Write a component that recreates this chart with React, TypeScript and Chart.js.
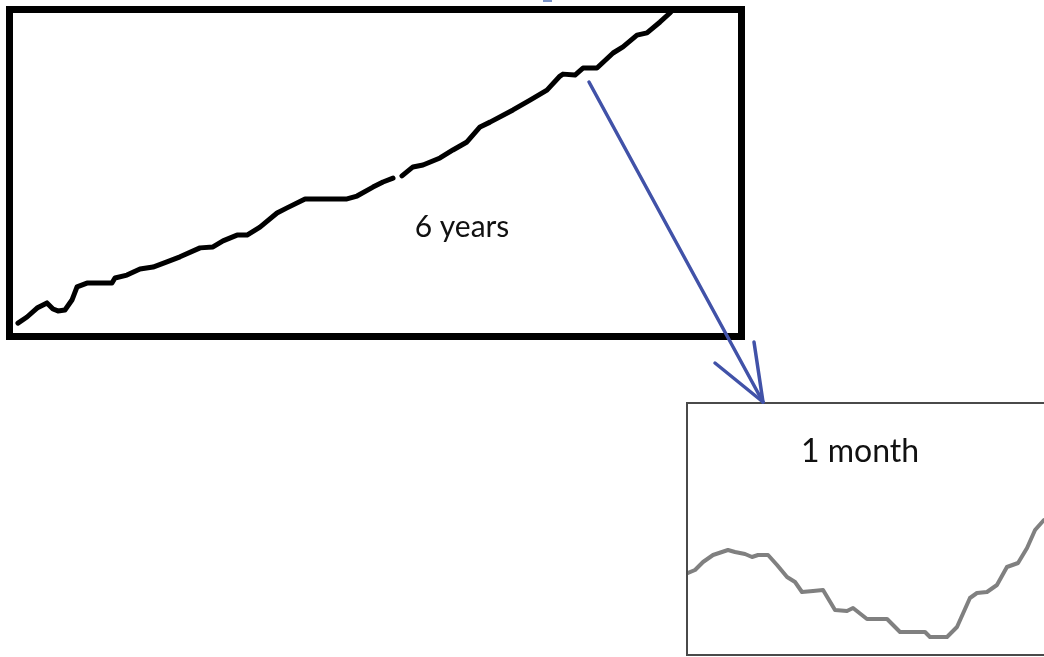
import React, { useEffect, useRef } from "react";
import { Chart, registerables } from "chart.js";

Chart.register(...registerables);

// Long-term series: 6 years (x in years, y in index units)
const yearX = [
  0.041, 0.116, 0.199, 0.281, 0.331, 0.372, 0.43, 0.488, 0.53, 0.612, 0.819, 0.844,
  0.943, 1.051, 1.159, 1.274, 1.382, 1.548, 1.655, 1.738, 1.854, 1.937, 2.044, 2.185,
  2.268, 2.417, 2.764, 2.847, 2.979, 3.062, 3.145, 3.18, 3.219, 3.31, 3.393, 3.534,
  3.641, 3.757, 3.865, 3.948, 4.138, 4.279, 4.419, 4.527, 4.552, 4.651, 4.717, 4.833,
  4.966, 5.048, 5.164, 5.247, 5.355, 5.437, 5.486,
];
const yearValue: (number | null)[] = [
  3.1, 5.0, 7.8, 9.4, 7.5, 6.9, 7.2, 10.3, 14.4, 15.6, 15.6, 17.2,
  18.1, 20.0, 20.6, 22.2, 23.8, 26.6, 26.9, 28.8, 30.6, 30.6, 33.1, 37.5,
  39.1, 41.9, 41.9, 42.8, 45.6, 47.2, 48.4, null, 49.1, 51.9, 52.5, 54.7,
  57.2, 59.7, 64.4, 65.9, 69.7, 72.8, 75.9, 80.3, 80.9, 80.6, 82.8, 82.8,
  87.5, 89.4, 93.1, 93.8, 97.2, 100.0, 102.2,
];

// Short-term series: 1 month (x in days)
const dayX = [
  0.0, 0.57, 1.22, 2.03, 3.24, 3.81, 4.62, 5.19, 5.68, 6.49, 7.22, 8.03,
  8.68, 9.24, 10.14, 10.95, 11.92, 12.89, 13.38, 14.51, 16.14, 17.19, 19.22, 19.62,
  21.0, 21.81, 22.86, 23.43, 24.24, 25.05, 25.86, 26.76, 27.49, 28.14, 28.86,
];
const dayValue = [
  32.4, 33.6, 36.8, 39.6, 41.6, 40.8, 40.0, 38.8, 39.6, 39.6, 35.6, 30.8,
  28.8, 24.8, 25.2, 25.6, 17.6, 17.2, 18.4, 14.0, 14.0, 8.8, 8.8, 6.8,
  6.8, 10.8, 22.4, 24.4, 24.8, 27.6, 34.8, 36.4, 42.4, 49.6, 53.6,
];

const longLabel = { text: "6 years", x: 3.716, y: 30 };
const shortLabel = { text: "1 month", x: 13.95, y: 76.8 };

const framePlugin = {
  id: "frame",
  afterDatasetsDraw(chart: any, _args: any, opts: any) {
    const { ctx, chartArea } = chart;
    const { left, top, right, bottom } = chartArea;
    const w = opts.width;
    const h = w / 2;
    ctx.save();
    ctx.strokeStyle = opts.color;
    ctx.lineWidth = w;
    ctx.lineCap = "square";
    ctx.beginPath();
    if (opts.right) {
      ctx.rect(left - h, top - h, right - left + w, bottom - top + w);
    } else {
      ctx.moveTo(right + 40, top - h);
      ctx.lineTo(left - h, top - h);
      ctx.lineTo(left - h, bottom + h);
      ctx.lineTo(right + 40, bottom + h);
    }
    ctx.stroke();
    const lab = opts.label;
    if (lab) {
      ctx.fillStyle = "#111111";
      ctx.font = opts.font;
      ctx.textAlign = "center";
      ctx.textBaseline = "alphabetic";
      ctx.fillText(
        lab.text,
        chart.scales.x.getPixelForValue(lab.x),
        chart.scales.y.getPixelForValue(lab.y)
      );
    }
    ctx.restore();
  },
};

function makeChart(
  canvas: HTMLCanvasElement,
  xs: number[],
  ys: (number | null)[],
  xMax: number,
  color: string,
  width: number,
  padding: any,
  frame: any
) {
  return new Chart(canvas, {
    type: "line",
    data: {
      datasets: [
        {
          data: xs.map((x, i) => ({ x, y: ys[i] })) as any,
          borderColor: color,
          borderWidth: width,
          pointRadius: 0,
          tension: 0,
          spanGaps: false,
          borderJoinStyle: "round",
          borderCapStyle: "round",
        },
      ],
    },
    options: {
      animation: false,
      responsive: false,
      maintainAspectRatio: false,
      layout: { padding },
      scales: {
        x: { type: "linear", min: 0, max: xMax, display: false },
        y: { type: "linear", min: 0, max: 100, display: false },
      },
      plugins: {
        legend: { display: false },
        tooltip: { enabled: false },
        frame,
      } as any,
    },
    plugins: [framePlugin],
  });
}

export default function App() {
  const bigRef = useRef<HTMLCanvasElement>(null);
  const smallRef = useRef<HTMLCanvasElement>(null);

  useEffect(() => {
    const c1 = makeChart(
      bigRef.current!,
      yearX,
      yearValue,
      6,
      "#000000",
      5,
      { left: 13, right: 22, top: 13, bottom: 17 },
      { width: 7, color: "#000000", right: true, label: longLabel, font: "30px Lato" }
    );
    const c2 = makeChart(
      smallRef.current!,
      dayX,
      dayValue,
      30,
      "#808080",
      4,
      { left: 8, right: 52, top: 9, bottom: 3 },
      { width: 2, color: "#4a4a4a", right: false, label: shortLabel, font: "32px Lato" }
    );
    return () => {
      c1.destroy();
      c2.destroy();
    };
  }, []);

  return (
    <div
      style={{
        position: "fixed",
        left: 0,
        top: 0,
        width: 1044,
        height: 657,
        overflow: "hidden",
        background: "#ffffff",
      }}
    >
      <canvas
        ref={bigRef}
        width={760}
        height={350}
        style={{ position: "absolute", left: 0, top: 0, width: 760, height: 350 }}
      />
      <canvas
        ref={smallRef}
        width={430}
        height={262}
        style={{ position: "absolute", left: 680, top: 395, width: 430, height: 262 }}
      />
      <div
        style={{
          position: "absolute",
          left: 543,
          top: 0,
          width: 9,
          height: 2,
          background: "#7a93c8",
        }}
      />
      <svg
        width={1044}
        height={657}
        style={{ position: "absolute", left: 0, top: 0, pointerEvents: "none" }}
      >
        <g stroke="#4152a8" strokeWidth={3.5} strokeLinecap="round" fill="none">
          <line x1={589} y1={82} x2={763} y2={402} />
          <line x1={715} y1={363} x2={763} y2={402} />
          <line x1={754} y1={342} x2={763} y2={402} />
        </g>
      </svg>
    </div>
  );
}
